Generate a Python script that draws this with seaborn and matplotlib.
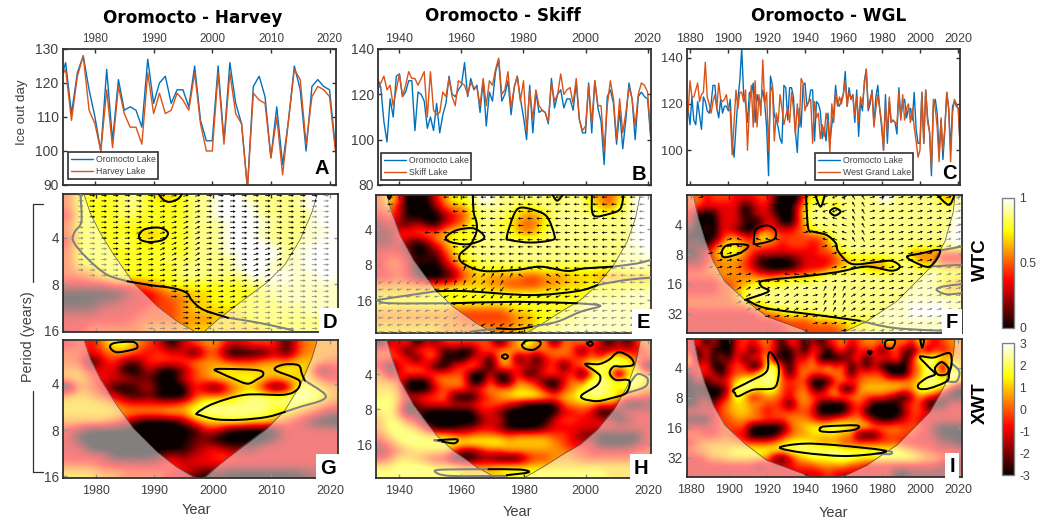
import numpy as np
import pandas as pd
import seaborn as sns
import matplotlib
matplotlib.use("Agg")
import matplotlib.pyplot as plt
from matplotlib.cm import ScalarMappable
from matplotlib.colors import Normalize
from matplotlib.lines import Line2D
from matplotlib.patches import PathPatch
from matplotlib.path import Path

# ---------- ice-out series ----------
oromocto_1879 = [118,111,123,113,111,121,115,109,123,121,
                 117,116,120,128,128,118,114,122,116,119,
                 119,117,122,104,97,110,122,130,144,124,
                 120,112,125,124,129,112,124,120,121,126,
                 120,110,89,132,128,115,113,110,105,103,
                 128,127,113,127,127,123,108,99,118,110,
                 128,129,119,121,126,126,104,121,120,117,
                 105,110,104,116,103,111,116,128,120,119,
                 122,124,134,119,127,122,124,112,126,106,
                 121,117,130,135,117,
                 120,126,111,123,128,118,110,100,124,103,121,112,113,112,107,127,
                 114,120,122,114,118,118,113,125,109,103,103,125,103,126,114,108,
                 89,119,122,116,98,113,96,109,125,118,100,119,121,119,118,101]
harvey_1974 = [121,124,109,122,128,112,108,100,118,101,119,111,107,107,102,123,
               111,117,111,112,117,115,112,123,108,100,100,123,102,123,111,108,
               89,117,115,114,98,110,93,109,124,121,102,116,119,118,116,100]
skiff_1933 = [122,125,128,122,124,115,122,129,119,124,130,127,127,124,127,130,110,130,113,111,
              112,121,119,127,119,115,126,125,124,120,125,123,123,115,127,115,126,124,131,136,
              120,122,130,114,123,128,117,126,104,122,109,122,115,113,112,108,125,117,120,129,
              120,122,123,116,127,109,104,106,124,107,126,115,115,95,115,126,118,100,118,103,
              112,123,118,106,120,125,124,121,102]
wgl_1879 = [116,130,123,123,126,129,121,124,125,138,123,120,116,121,124,118,129,122,121,122,
            124,118,117,98,112,126,118,125,125,121,126,100,118,128,110,130,110,124,115,139,
            120,125,100,125,128,104,116,112,124,118,111,115,118,112,125,118,107,120,110,131,
            129,117,120,121,122,103,121,114,116,105,111,106,116,112,99,120,112,125,119,123,
            120,124,130,119,125,122,124,115,123,112,123,120,128,135,118,122,125,110,118,124,
            118,112,100,119,108,123,112,113,112,111,125,113,124,113,118,120,112,118,110,104,
            97,100,125,103,126,112,108,92,122,118,110,95,114,100,110,125,118,95,116,122,120,118,101]

# ---------- wavelet grids: digit = index into level_values (share of the colour scale) ----------
level_values = [-0.06, 0.0, 0.15, 0.33, 0.46, 0.58, 0.68, 0.78, 0.88, 1.0]
wtc_d = ["477778876678899988888999","477778877778899998888999","377778777778899998888899",
         "477777777778889999888899","477777666778889998888889","377778767778889999888899",
         "477777777778889999988999","477777777878888999988999","466777777788888999888999",
         "445677777788888899998899","333344456777777788888888","111112334556677777888888",
         "111223334456677777788888","222333344456666677777888","333333444455566677777777",
         "334444455556666666777777"]
xwt_g = ["343577543034553344414555","443455434330440011314555","440342244445554445556654",
         "553330031024567666676613","564333220034566776566643","154310231004214563027765",
         "565432120004555788888875","666654444456888888787654","666665555658888888765432",
         "555543100024667766543200","321111000001331000133333","310000000012200000233333",
         "330000000012332223333333","333311112323344333333333","444333333433333333333333",
         "666554444332121111111222"]
wtc_e = ["474001357789988888878886546899","453010245578888767888887657899","343110023468887655688888888899",
         "232232134578877545788888888899","224445567778887656788888888899","223212457778888888888888888899",
         "333201246788888888888888888889","344312135778888888888888888888","344310023567777777777777777888",
         "334320012456555544555666555555","555555556666554444556667777777","666666777777777777777777777888",
         "777777777777777777777778888888","555555554444445667777788888888","555555555444444556777788888888",
         "666666655555555667778888888888"]
xwt_h = ["133403244444414585515454313145","443144412014455554555414233334","444314411033156131344445478644",
         "313443103453055332340448887851","523444444410312412443404860675","554101455500501543103548887886",
         "665000344434555665314578876765","675334451003456777656688886443","775123333334443210014555443112",
         "674120000013320000013343012333","576430000002331000134433331233","577653111223321001233333333333",
         "467776665455554555544322111113","346777777777776666654333111123","234566664223445555555443333344",
         "346654331112211134455544444444","667777666555566666666666666666","777777777666667777777777766666"]
wtc_f = ["453444333442001576888888899888888658","443333312331003688868888888888888888","310133302332003788888888888888888889",
         "301033321133103688888888888888888889","202033200343334578888888888888888889","110135543775444444688888888888888899",
         "221357654544344434578888888888888889","123577754333333334457888888885555444","223455543110012333345666667787555333",
         "334555543210012333456776556788777666","444455555444555567888888888888888777","333344556777788888888888888888888665",
         "333344578888888888888888888888888656","444444578888888888888888888888888888","444444445678888888888888888889999988",
         "333333333455677778888888888889999988","333333333333444455566777788888888888","333333333333344444445666777888888888"]
xwt_i = ["341310343453143131345345547453743455","314110341343113043034143413421424345","513131414371113350011341343503888765",
         "434103440178314454535031310104587286","243303444788414544554144441004588387","131334688888444400145445555555688886",
         "111013888687434521450156666655887631","122024863455435544455554443203543211","123245665544314541000343000134411133",
         "333345665434444430001341000024433333","111344555544455543345554211234333333","333344441000145677887766555544432111",
         "443344330001345566665511134444332111","345555544445677765554444444433333221","455666777777788888887777777765443333",
         "334556666652135677788877777777655443","333333333233334445555443333333333222","333333333333333333433333333112222233"]

# ---------- cone of influence: year, log2(period) ----------
coi_d_year = [1977.8,1979,1980.7,1983,1986.4,1990.4,1993.8,1997.2,1998.3,2001.2,2004.6,2009.2,2012.3,2014.9,2016.9,2018]
coi_d_log2 = [1.0,1.46,1.89,2.36,2.97,3.47,3.8,4.05,4.05,3.73,3.4,2.97,2.58,2.04,1.46,1.0]
coi_e_year = [1935.9,1937.5,1940.2,1944.5,1948.8,1952,1957.4,1964.9,1971.9,1979.5,1985.4,1992.9,1998.3,2003.7,2009,2013.3,2016,2017.6]
coi_e_log2 = [1.0,1.51,2.17,2.87,3.39,3.75,4.19,4.66,5.0,5.0,4.7,4.28,4.0,3.58,3.01,2.36,1.7,1.0]
coi_f_year = [1881.1,1883.7,1887.2,1891.6,1897.7,1908.2,1919.6,1938.8,1941.4,1958,1972,1987.8,2005.2,2013.1,2017.5,2018.4]
coi_f_log2 = [1.0,1.8,2.53,3.25,3.92,4.54,5.09,5.54,5.68,5.68,5.26,4.59,3.47,2.58,1.58,1.0]

# ---------- significance contours: (years, log2 period) ----------
black_d = [([1990.4,1991.5,1992.6,1994.1,1994.9],[1.0,1.17,1.22,1.15,1.0]),
           ([1987.4,1988.4,1990.9,1992.3,1991.5,1989.2,1987.6,1987.4],[1.93,1.81,1.78,1.89,2.04,2.09,2.04,1.93]),
           ([1985.4,1989.2,1993.2,1995.5,1996.4,1998.3,2002.6],[2.94,3.02,3.09,3.19,3.35,3.55,3.73])]
gray_d = [([1977.3,1977.5,1976.4,1976.1,1978.4,1981.8,1985.4],[1.0,1.64,1.86,2.07,2.43,2.79,2.94]),
          ([2002.6,2008.0,2013.7],[3.73,3.84,4.0])]
black_g = [([1982.4,1983.2,1986.4,1987.1,1986.1,1983.5,1982.4],[1.21,1.12,1.10,1.21,1.27,1.32,1.21]),
           ([2000.3,2001.8,2007.7,2008.6,2007.5,2005.9,2003.5,2001.5,2000.3],[1.70,1.68,1.71,1.81,1.91,2.0,1.89,1.78,1.70]),
           ([2012.3,2009.2,2004.6,2000.6,1997.8,1997.3,2000.1,2005.5,2012.0,2014.3,2014.9,2013.7,2010.6,2012.0,2014.6,2015.2,2015.7],
            [2.61,2.72,2.78,2.77,2.68,2.63,2.43,2.24,2.24,2.14,1.96,1.86,1.70,1.59,1.60,1.78,1.93])]
gray_g = [([2015.7,2019.1,2018.6,2014.9,2012.3],[1.93,2.22,2.36,2.50,2.61])]
black_e = [([1936.1,1936.8,1937.5],[1.0,1.15,1.0]),
           ([1963.7,1963.9,1964.9,1964.7,1962.8,1959.4,1960.6,1967.1,1977.8,1985.4,1994,1999.4,2008.5],
            [1.0,1.51,1.84,2.12,2.45,2.73,2.97,3.18,3.15,3.06,3.18,3.11,3.06]),
           ([1955.1,1958.5,1963.9,1967.1,1966.6,1961.7,1956.3,1955.1],[2.22,2.03,1.98,2.17,2.31,2.43,2.36,2.22]),
           ([1974.6,1976.8,1978.9,1983.2,1987.5,1989.9,1989.1,1982.2,1975.7,1974.6],[2.22,1.61,1.40,1.46,1.65,2.17,2.31,2.38,2.31,2.22]),
           ([1989.1,1990.8,1992.9],[1.0,1.20,1.0]),
           ([2002.0,2002.5,2008,2011.2,2012.2],[1.0,1.61,1.56,1.42,1.0]),
           ([1952,1961.7,1982.2,1997.2,2003.7],[3.75,3.75,3.86,3.75,3.58]),
           ([1956.9,1977.8,1997.2],[4.09,4.05,4.09]),
           ([1971.4,1977.8,1982.7],[4.80,4.82,4.75])]
gray_e = [([1932.7,1943.4,1952],[4.0,3.86,3.75]),
          ([1932.7,1937,1956.9],[4.0,4.09,4.09]),
          ([2008.5,2016.5,2020.9],[3.06,2.97,2.87]),
          ([2003.7,2012.3,2020.9],[3.58,3.44,3.37]),
          ([1997.2,2004.7,1998.3,1990.8,1982.7],[4.09,4.16,4.33,4.61,4.75]),
          ([1962.8,1971.4],[4.89,4.80])]
black_h = [([1979.5,1981.1,1984.8,1985.4,1983.2,1980.5,1979.5],[1.16,1.04,1.04,1.16,1.30,1.27,1.16]),
           ([1973,1974.1,1975,1974.1,1973],[1.49,1.43,1.49,1.56,1.49]),
           ([2000.6,2001.5,2002.3,2001.5,2000.6],[1.13,1.06,1.13,1.19,1.13]),
           ([1999.9,2004.2,2007.4,2010.6,2014.4,2015.3,2011.7,2009,2007.7,2009.6,2013.3,2014.2,2012.8,2008,2003.7,1999.4,1998.8,2003.7,2004.7,2003.1,1999.9],
            [1.71,1.71,1.59,1.37,1.52,1.73,1.78,1.78,1.97,2.16,2.16,2.26,2.55,2.69,2.77,2.71,2.59,2.31,2.07,1.92,1.71]),
           ([1952.6,1958,1958.8,1957.5,1953.8],[3.89,3.86,3.91,3.98,3.93]),
           ([1968.7,1978.9,1981.6,1974.6],[4.72,4.73,4.81,4.89])]
gray_h = [([2014.2,2016.6,2019.3,2020,2018.7,2012.8],[2.26,2.0,2.07,2.21,2.38,2.55]),
          ([1952.6,1951.2,1953.8],[3.89,3.89,3.93]),
          ([1968.7,1954.2,1951.5,1956.3,1974.6],[4.72,4.73,4.79,4.91,4.91])]
black_f = [([1944.9,1947.9,1950.2],[1.0,1.41,1.0]),
           ([1952.8,1955.4,1958.4,1955.4,1952.8],[1.58,1.46,1.58,1.71,1.58]),
           ([2008.7,2014.9,2017.5,2017.8],[1.0,1.35,1.13,1.0]),
           ([1912.9,1913.9,1919.6,1924,1924,1919.6,1913.5,1912.9],[2.58,2.19,2.04,2.19,2.47,2.60,2.67,2.58]),
           ([1896,1897.7,1902.1,1910,1905.6,1897.7,1896],[2.97,2.75,2.67,2.72,2.97,3.11,2.97]),
           ([1940.2,1941.4,1944.1,1951,1955.9,1957.2,1964.2,1977.3,1985.1,1989.5,1985.1,1972,1956.3,1938.8,1917.8,1917,1920.5,1908.2],
            [1.0,2.13,2.25,2.36,2.64,2.92,3.33,3.27,3.23,3.42,3.56,3.42,3.61,3.75,3.90,4.09,4.26,4.54]),
           ([1909.1,1919.6,1947.6,1968.5],[4.54,4.82,5.06,5.24]),
           ([1993.4,2000,2010.5,2005.2,1996.5,1993.4],[3.08,2.99,2.88,3.42,3.25,3.08])]
gray_f = [([1968.5,1987.8,2021.9],[5.24,5.49,5.6]),
          ([2010.5,2021.9],[2.88,2.75]),
          ([2005.2,2021.9],[3.42,3.36]),
          ([2021.9,2012.2,2008.7,2013.9,2021.9],[4.01,4.09,4.2,4.35,4.31])]
black_i = [([1902.4,1910.8,1919.6,1920.5,1922.2,1925.7,1925.7,1923.1,1912.6,1904.7,1903,1902.4],[2.74,2.46,2.13,1.58,1.52,1.91,2.35,2.69,2.74,2.96,2.85,2.74]),
           ([1981.6,1982.5,1986.9,1985.7,1982.5,1981.6],[1.25,1.10,1.10,1.34,1.36,1.25]),
           ([2000.3,2002.1,2001.2,2000.3],[1.08,1.08,1.34,1.08]),
           ([1972.9,1974.7,1973.8,1972.9],[1.47,1.47,1.56,1.47]),
           ([2000,2007,2015.4,2016.6,2015.4,2014,2005.2,2000,1999.1,2003.5,2007.9,2004.4,2000],[1.64,1.67,1.52,1.86,2.19,2.46,2.69,2.71,2.57,2.35,2.22,1.97,1.64]),
           ([2007.9,2011.4,2014.9,2014,2009.6,2007.9],[2.02,1.82,2.02,2.22,2.24,2.02]),
           ([1947.9,1951,1966.8,1965.9,1954.5,1947.9,1947.9],[4.01,3.96,3.93,4.07,4.15,4.12,4.01]),
           ([1926.6,1938.8,1956.3,1980.8,1977.3,1959.8,1938.8,1926.6],[4.67,4.54,4.59,4.76,4.87,4.95,4.84,4.67])]
gray_i = [([2016.6,2020.6,2019.2,2014],[1.86,2.13,2.46,2.46]),
          ([1980.8,1985.1,1984.3,1977.3],[4.76,4.81,4.89,4.87])]

# ---------- phase angle of the arrows, degrees, coarse grid (period rows, year columns) ----------
angle_d = [[0,0,0,-5,10,15,0,0,0,0,0,0],[0,0,5,10,15,25,5,0,0,-5,0,0],[0,0,0,10,25,30,5,0,15,20,0,0],
           [0,0,0,5,10,15,0,10,20,15,0,0],[0,0,0,0,0,0,5,10,10,0,0,0],[0,0,0,0,0,0,0,0,0,0,0,0]]
angle_e = [[180,180,170,180,180,180,180,185,180,180,180,180],[170,170,180,180,185,180,180,180,180,180,175,180],
           [180,200,190,180,180,180,180,180,180,180,180,180],[205,220,60,70,45,60,150,150,180,180,180,180],
           [190,190,190,200,215,230,215,200,190,180,180,180],[190,190,190,210,210,210,190,190,190,190,190,190]]
angle_f = [[15,60,60,60,15,15,200,120,15,15,15,15],[20,20,160,160,15,15,160,120,15,15,15,15],
           [15,15,170,160,160,15,15,15,15,15,15,15],[15,15,15,10,170,170,15,15,15,15,15,15],
           [15,30,30,20,30,15,60,30,15,15,15,15],[15,15,15,15,15,15,15,15,15,15,15,15]]

panel_titles = ["Oromocto - Harvey", "Oromocto - Skiff", "Oromocto - WGL"]
letters = ["A", "B", "C", "D", "E", "F", "G", "H", "I"]
wtc_ticks = [0, 0.5, 1]
wtc_ticklabels = ["0", "0.5", "1"]
xwt_ticks = [-3, -2, -1, 0, 1, 2, 3]
xwt_ticklabels = ["-3", "-2", "-1", "0", "1", "2", "3"]

BLUE = "#0072BD"
ORANGE = "#D95319"
DARK = "#303030"
TXT = "#404040"
W, H = 1049, 523

sns.set_theme(style="ticks")
plt.rcParams["font.family"] = ["Liberation Sans", "DejaVu Sans"]
plt.rcParams["axes.unicode_minus"] = False
fig = plt.figure(figsize=(W / 100, H / 100), dpi=100, facecolor="white")


def add_ax(x0, x1, y0, y1):
    return fig.add_axes([x0 / W, 1 - y1 / H, (x1 - x0) / W, (y1 - y0) / H])


def fx(px):
    return px / W


def fy(py):
    return 1 - py / H


def style(ax, xticks, yticks, yticklabels=None, xsize=9, ysize=10, xlabels="none"):
    ax.set_xticks(xticks)
    ax.set_yticks(yticks)
    if yticklabels is not None:
        ax.set_yticklabels(yticklabels)
    ax.tick_params(axis="both", direction="in", length=3, width=1.0, color=DARK,
                   top=True, right=True, pad=3)
    ax.tick_params(axis="x", labelsize=xsize, labelcolor=TXT, pad=5 if xlabels == "bottom" else 3,
                   labeltop=xlabels == "top", labelbottom=xlabels == "bottom")
    ax.tick_params(axis="y", labelsize=ysize, labelcolor=TXT)
    for s in ax.spines.values():
        s.set_linewidth(1.3)
        s.set_color(DARK)
    ax.set_xlabel("")
    ax.set_ylabel("")


def smooth_curve(ax, xs, ys, color, z):
    """Draw a contour through the read points as a smooth Bezier stroke."""
    p = np.column_stack([xs, ys]).astype(float)
    closed = len(p) > 3 and np.allclose(p[0], p[-1])
    n = len(p)
    verts = [p[0]]
    codes = [Path.MOVETO]
    for i in range(n - 1):
        if closed:
            a, d = p[(i - 1) % (n - 1)], p[(i + 2) % (n - 1)]
        else:
            a, d = p[max(i - 1, 0)], p[min(i + 2, n - 1)]
        b, c = p[i], p[i + 1]
        verts += [b + (c - a) / 6, c - (d - b) / 6, c]
        codes += [Path.CURVE4] * 3
    ax.add_patch(PathPatch(Path(verts, codes), fill=False, edgecolor=color, lw=1.45, zorder=z,
                           capstyle="round", joinstyle="round"))


# ---------- top row ----------
oro_years = np.arange(1879, 1879 + len(oromocto_1879))
frame = pd.DataFrame({"year": oro_years, "oromocto": oromocto_1879})
top_specs = [
    ((62.7, 336), (1974.5, 2021.1), (90, 130), [90, 100, 110, 120, 130], harvey_1974, 1974, "Harvey Lake",
     list(range(1980, 2021, 10)), 8.4, 10, (68, 158, 154, 179)),
    ((378, 651), (1933.1, 2021.1), (80, 140), [80, 100, 120, 140], skiff_1933, 1933, "Skiff Lake",
     list(range(1940, 2021, 20)), 9, 10, (381, 471, 155, 180)),
    ((687.3, 960), (1878.6, 2020.9), (85, 143.7), [100, 120, 140], wgl_1879, 1879, "West Grand Lake",
     list(range(1880, 2021, 20)), 9, 9.3, (815, 913, 155, 180)),
]
for (xpx, xlim, ylim, yt, other, start, name, xt, xs, ys, leg) in top_specs:
    ax = add_ax(xpx[0], xpx[1], 49, 185)
    sub = frame[frame.year >= start]
    sns.lineplot(x=sub.year.values, y=sub.oromocto.values, color=BLUE, lw=1.0, ax=ax,
                 label="Oromocto Lake", estimator=None)
    sns.lineplot(x=np.arange(start, start + len(other)), y=other, color=ORANGE, lw=1.0, ax=ax,
                 label=name, estimator=None)
    ax.set_xlim(*xlim)
    ax.set_ylim(*ylim)
    style(ax, xt, yt, xsize=xs, ysize=ys, xlabels="top")
    l = ax.legend(loc="lower left", bbox_to_anchor=(fx(leg[0]), fy(leg[3]), (leg[1] - leg[0]) / W, (leg[3] - leg[2]) / H),
                  bbox_transform=fig.transFigure, mode="expand", borderaxespad=0, fontsize=6.3, fancybox=False,
                  framealpha=1, edgecolor=DARK, handlelength=2.5, handletextpad=0.35, labelspacing=0.4,
                  borderpad=0.3)
    l.get_frame().set_linewidth(1.2)
    for t in l.get_texts():
        t.set_color(TXT)


# ---------- wavelet panels ----------
def levels(rows):
    return np.array([[level_values[int(c)] for c in r] for r in rows], dtype=float)


def draw_wavelet(xpx, ypx, xlim, ylim, rows, lo, hi, coi_x, coi_y, black, gray, xt, yt,
                 angle=None, step=None, xlabels="none"):
    ax = add_ax(xpx[0], xpx[1], ypx[0], ypx[1])
    lev = levels(rows)
    ax.imshow(lev * (hi - lo) + lo, cmap="hot", vmin=lo, vmax=hi, aspect="auto",
              interpolation="bicubic", extent=[xlim[0], xlim[1], ylim[0], ylim[1]], origin="upper")
    cx = np.array([xlim[0]] + coi_x + [xlim[1]])
    cy = np.array([ylim[1] - 0.3] + coi_y + [ylim[1] - 0.3])
    ax.fill_between(cx, cy, ylim[0] + 0.5, color="white", alpha=0.5, lw=0, zorder=2)
    ax.plot(coi_x, coi_y, color="#555555", lw=0.5, zorder=3)
    for xs, ys in gray:
        smooth_curve(ax, xs, ys, "#808080", 5)
    if angle is not None:
        ang = np.array(angle, dtype=float)
        qx = np.arange(xlim[0] + step[0] * 0.5, xlim[1], step[0])
        qy = np.arange(ylim[1] + step[1] * 0.3, ylim[0], step[1])
        X, Y = np.meshgrid(qx, qy)
        ci = ((X - xlim[0]) / (xlim[1] - xlim[0]) * lev.shape[1]).astype(int).clip(0, lev.shape[1] - 1)
        ri = ((Y - ylim[1]) / (ylim[0] - ylim[1]) * lev.shape[0]).astype(int).clip(0, lev.shape[0] - 1)
        ai = ((X - xlim[0]) / (xlim[1] - xlim[0]) * ang.shape[1]).astype(int).clip(0, ang.shape[1] - 1)
        aj = ((Y - ylim[1]) / (ylim[0] - ylim[1]) * ang.shape[0]).astype(int).clip(0, ang.shape[0] - 1)
        show = lev[ri, ci] >= 0.5
        th = np.deg2rad(ang[aj, ai])
        U = np.cos(th) * 5.5
        V = np.sin(th) * 5.5
        limit = np.interp(X, cx, cy)
        is_in = Y < limit
        for mask, col, z in [(show & is_in, "black", 4), (show & ~is_in, "#8c8c8c", 4)]:
            ax.quiver(X[mask], Y[mask], U[mask], V[mask], color=col, angles="uv", scale_units="dots",
                      scale=1, units="dots", width=0.8, headwidth=3.6, headlength=3.2, headaxislength=2.9,
                      pivot="mid", zorder=z)
    for xs, ys in black:
        smooth_curve(ax, xs, ys, "black", 6)
    ax.set_xlim(*xlim)
    ax.set_ylim(*ylim)
    ax.grid(False)
    style(ax, xt, np.log2(yt), [str(v) for v in yt], xsize=9, ysize=9.8, xlabels=xlabels)
    return ax


x_d = list(range(1980, 2021, 10))
x_e = list(range(1940, 2021, 20))
x_f = list(range(1880, 2021, 20))
draw_wavelet((63.3, 338), (194, 331.7), (1974.4, 2021.4), (4.03, 1.05), wtc_d, 0, 1, coi_d_year, coi_d_log2,
             black_d, gray_d, x_d, [4, 8, 16], angle_d, (2, 0.115))
draw_wavelet((63.3, 338), (339.7, 477.7), (1974.4, 2021.4), (4.03, 1.05), xwt_g, -3, 3, coi_d_year, coi_d_log2,
             black_g, gray_g, x_d, [4, 8, 16], xlabels="bottom")
draw_wavelet((376, 651), (195, 332.7), (1932.5, 2021), (4.92, 1.04), wtc_e, 0, 1, coi_e_year, coi_e_log2,
             black_e, gray_e, x_e, [4, 8, 16], angle_e, (3, 0.2))
draw_wavelet((376, 651), (340, 478.3), (1932.5, 2021), (4.98, 1.02), xwt_h, -3, 3, coi_e_year, coi_e_log2,
             black_h, gray_h, x_e, [4, 8, 16], xlabels="bottom")
draw_wavelet((686.7, 961.7), (195, 333), (1877.7, 2021.9), (5.65, 1.02), wtc_f, 0, 1, coi_f_year, coi_f_log2,
             black_f, gray_f, x_f, [4, 8, 16, 32], angle_f, (5, 0.235))
draw_wavelet((686.7, 961.7), (339, 477), (1877.7, 2021.9), (5.65, 1.05), xwt_i, -3, 3, coi_f_year, coi_f_log2,
             black_i, gray_i, x_f, [4, 8, 16, 32], xlabels="bottom")

# ---------- colour bars ----------
for (y0, y1, lo, hi, ticks, labels) in [(198, 327.7, 0, 1, wtc_ticks, wtc_ticklabels),
                                        (343, 475, -3, 3, xwt_ticks, xwt_ticklabels)]:
    cax = add_ax(1001.7, 1014, y0, y1)
    cb = fig.colorbar(ScalarMappable(Normalize(lo, hi), cmap="hot"), cax=cax)
    cb.set_ticks(ticks)
    cb.set_ticklabels(labels)
    cax.tick_params(length=0, labelsize=8.8, labelcolor=TXT, pad=4)
    cb.outline.set_edgecolor("#808080")
    cb.outline.set_linewidth(1.0)

# ---------- texts ----------
for t, cx, cy in zip(panel_titles, [193, 503, 829], [18, 16, 16]):
    fig.text(fx(cx), fy(cy), t, ha="center", va="center", fontsize=12.2, fontweight="bold",
             family=["DejaVu Sans"], color="black")
fig.text(fx(22), fy(112), "Ice out day", rotation=90, ha="center", va="center", fontsize=9.6, color=TXT)
fig.text(fx(28), fy(337), "Period (years)", rotation=90, ha="center", va="center", fontsize=10.4, color=TXT)
for cx, cy in [(196, 510), (517, 512), (833, 513)]:
    fig.text(fx(cx), fy(cy), "Year", ha="center", va="center", fontsize=10.5, color=TXT)
fig.text(fx(980), fy(260), "WTC", rotation=90, ha="center", va="center", fontsize=13.5, fontweight="bold", color="black")
fig.text(fx(980), fy(403), "XWT", rotation=90, ha="center", va="center", fontsize=13.5, fontweight="bold", color="black")
letter_xy = [(322, 169), (639, 175), (949, 174), (330, 322), (643, 323), (952, 323), (328, 468), (641, 468), (952, 467)]
for i, (s, (cx, cy)) in enumerate(zip(letters, letter_xy)):
    box = dict(boxstyle="square,pad=0.2", fc="white", ec="none") if i > 2 else None
    fig.text(fx(cx), fy(cy), s, ha="center", va="center", fontsize=14.5, fontweight="bold", color="black", bbox=box, zorder=20)
for seg in [((32.7, 43), (203.5, 203.5)), ((32.7, 32.7), (203.5, 282)), ((32.7, 32.7), (391, 472)), ((32.7, 43), (472, 472))]:
    fig.add_artist(Line2D([fx(seg[0][0]), fx(seg[0][1])], [fy(seg[1][0]), fy(seg[1][1])], color=DARK, lw=0.9))

fig.savefig("out.png", dpi=100, facecolor="white")
